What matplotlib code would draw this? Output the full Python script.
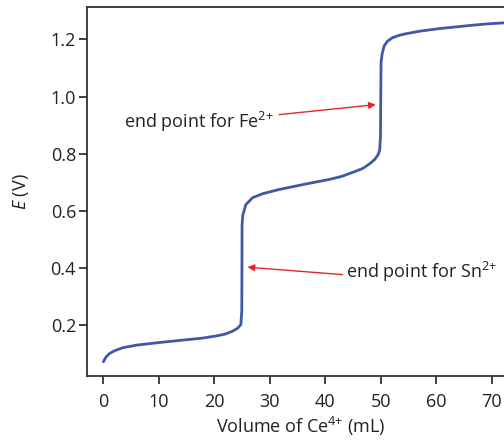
import matplotlib
matplotlib.use("Agg")
import matplotlib.pyplot as plt

plt.rcParams['font.family'] = ['Open Sans', 'DejaVu Sans']
plt.rcParams['mathtext.fontset'] = 'custom'
plt.rcParams['mathtext.rm'] = 'Open Sans'
plt.rcParams['mathtext.it'] = 'Open Sans:italic'

# Titration curve (volume in mL, potential in V)
volumen = [0.05, 0.5, 1.1, 2.0, 3.5, 6.0, 9.5, 12.5, 15.5, 18.0, 20.3, 22.0, 23.3,
           24.2, 24.8, 24.97, 25.0, 25.02, 25.15, 25.7, 26.9, 28.7, 31.5, 34.7,
           37.5, 40.7, 43.0, 45.5, 46.8, 48.0, 48.9, 49.5, 49.8, 49.95, 50.0,
           50.05, 50.25, 50.6, 51.2, 52.1, 53.2, 54.5, 57.0, 60.5, 63.5, 66.5,
           69.5, 72.0, 74.0]
potencial = [0.072, 0.088, 0.100, 0.110, 0.121, 0.130, 0.138, 0.144, 0.150, 0.155,
             0.162, 0.169, 0.179, 0.189, 0.202, 0.25, 0.40, 0.55, 0.585, 0.622,
             0.646, 0.660, 0.674, 0.687, 0.698, 0.710, 0.721, 0.739, 0.749, 0.765,
             0.780, 0.796, 0.812, 0.86, 1.00, 1.12, 1.150, 1.177, 1.194, 1.206,
             1.214, 1.220, 1.229, 1.238, 1.244, 1.250, 1.255, 1.258, 1.260]

xticks = [0, 10, 20, 30, 40, 50, 60, 70]
yticks = [0.2, 0.4, 0.6, 0.8, 1.0, 1.2]

fig = plt.figure(figsize=(5.04, 4.41), dpi=100)
ax = fig.add_axes([0.173, 0.147, 0.848, 0.836])

ax.plot(volumen, potencial, color="#3f58a8", linewidth=2.0, solid_capstyle="round")

ax.set_xlim(-2.87, 74.1)
ax.set_ylim(0.0215, 1.312)
ax.set_xticks(xticks)
ax.set_yticks(yticks)
ax.set_yticklabels([f"{v:.1f}" for v in yticks])

for lado in ["left", "bottom", "top"]:
    ax.spines[lado].set_color("#333333")
    ax.spines[lado].set_linewidth(1.3)
ax.spines["right"].set_visible(False)
ax.tick_params(direction="out", length=6, width=1.3, color="#333333",
               labelsize=13, labelcolor="#222222")
ax.tick_params(axis="x", pad=6)
ax.tick_params(axis="y", pad=2)

ax.set_xlabel("Volume of Ce$^{4{+}}$ (mL)", fontsize=13, color="#222222", labelpad=3)
ax.set_ylabel("$E$ (V)", fontsize=13, color="#222222", labelpad=14)

# flechas de los puntos finales
flecha = dict(arrowstyle="-|>", color="#e3262b", lw=1.0, mutation_scale=10,
              shrinkA=0, shrinkB=0)
ax.annotate("", xy=(49.1, 0.972), xytext=(31.7, 0.937), arrowprops=flecha)
ax.annotate("", xy=(26.0, 0.403), xytext=(43.1, 0.377), arrowprops=flecha)
ax.text(3.8, 0.89, "end point for Fe$^{2{+}}$", fontsize=13, color="#222222",
        ha="left", va="baseline")
ax.text(43.8, 0.366, "end point for Sn$^{2{+}}$", fontsize=13, color="#222222",
        ha="left", va="baseline", clip_on=False)

fig.savefig("out.png", dpi=100)
